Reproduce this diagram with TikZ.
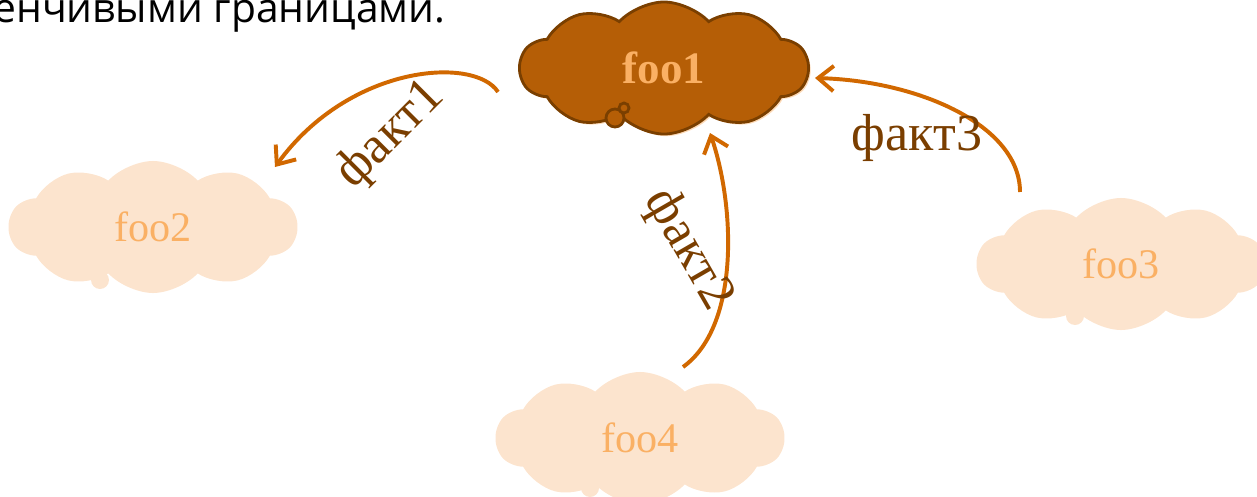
\documentclass[tikz,border=0pt]{standalone}
\usepackage{fontspec}
\setmainfont{Liberation Serif}
\newfontfamily\headfont{Open Sans}
\usetikzlibrary{shapes.symbols,shadows,arrows.meta}

\definecolor{cloudlight}{RGB}{252,228,206}
\definecolor{cloudtext}{RGB}{250,176,100}
\definecolor{clouddark}{RGB}{181,94,6}
\definecolor{cloudedge}{RGB}{122,63,0}
\definecolor{cloudshadow}{RGB}{253,218,183}
\definecolor{factarrow}{RGB}{209,104,0}
\definecolor{facttext}{RGB}{122,62,0}

\tikzset{
  light cloud/.style={cloud, cloud puffs=10, cloud puff arc=95, aspect=2.4,
    fill=cloudlight, text=cloudtext, minimum width=7.2cm, minimum height=3.3cm,
    font=\fontsize{30}{34}\selectfont},
  dark cloud/.style={light cloud, fill=clouddark, draw=cloudedge, line width=2pt,
    font=\fontsize{32}{36}\selectfont\bfseries,
    drop shadow={shadow xshift=1.5pt, shadow yshift=-1.5pt, fill=cloudshadow, opacity=1}},
  fact/.style={draw=factarrow, line width=2.8pt, -{Straight Barb[length=11pt,width=18pt]}},
  fact label/.style={text=facttext, font=\fontsize{37}{42}\selectfont},
}

\begin{document}
\begin{tikzpicture}[x=0.025cm,y=0.025cm]

\useasboundingbox (0,0) rectangle (1257,496);

% line of text cut off above the picture
\node[anchor=base west, inner sep=0, font=\headfont\fontsize{29}{34}\selectfont] (head) at (-7,474) {енчивыми границами.};

% small bumps below the light clouds
\foreach \x/\y in {100/216, 1075/180, 590/8}
  \fill[cloudlight] (\x,\y) circle (9);

% the clouds
\node[dark cloud] (foo1) at (664,428) {foo1};
\foreach \name/\x/\y in {foo2/153/269, foo3/1121/232, foo4/640/58}
  \node[light cloud] (\name) at (\x,\y) {\name};

% loops at the bottom of foo1
\draw[cloudedge, fill=clouddark, line width=2pt] (615,378) circle (9);
\draw[cloudedge, fill=clouddark, line width=2pt] (624,388) circle (5);

% facts
\draw[fact] ([shift={(-166,-24)}]foo1.center) .. controls (475,440) and (350,432) .. ([shift={(122,60)}]foo2.center);
\draw[fact] ([shift={(43,71)}]foo4.center) .. controls (740,170) and (735,290) .. ([shift={(46,-65)}]foo1.center);
\draw[fact] ([shift={(-101,72)}]foo3.center) .. controls (1020,370) and (920,415) .. ([shift={(151,-10)}]foo1.center);

\node[fact label, rotate=45] (fact1) at (391,361) {факт1};
\node[fact label, rotate=-60] (fact2) at (688,246) {факт2};
\node[fact label] (fact3) at (917,358) {факт3};

\end{tikzpicture}
\end{document}
